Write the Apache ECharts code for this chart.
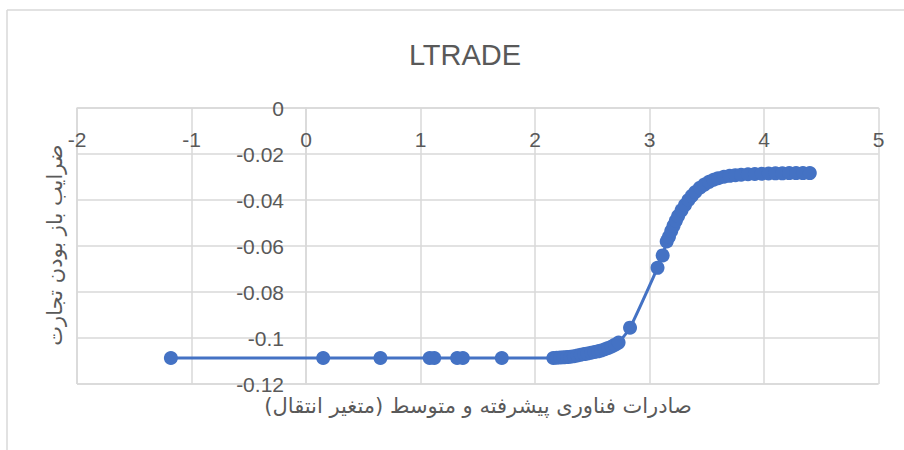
<!DOCTYPE html>
<html>
<head>
<meta charset="utf-8">
<script src="https://cdn.jsdelivr.net/npm/echarts@6/dist/echarts.min.js"></script>
<style>html,body{margin:0;padding:0;background:#fff;}#c{width:904px;height:450px;}</style>
</head>
<body>
<div id="c"></div>
<script>
const titleText = 'LTRADE';
const xAxisTitle = 'صادرات فناوری پیشرفته و متوسط (متغیر انتقال)';
const yAxisTitle = 'ضرایب باز بودن تجارت';

// transition variable values (x)
const xValues = [
  -1.18, 0.15, 0.65, 1.08, 1.12, 1.32, 1.37, 1.71,
  2.16, 2.19, 2.22, 2.25, 2.28, 2.31, 2.34, 2.37, 2.40, 2.43, 2.46, 2.49,
  2.52, 2.55, 2.58, 2.61, 2.64, 2.67, 2.70, 2.73,
  2.83, 3.07, 3.115,
  3.15, 3.17, 3.19, 3.21, 3.23, 3.25, 3.28, 3.31, 3.34, 3.37, 3.40, 3.44,
  3.48, 3.52, 3.56, 3.60, 3.65, 3.70, 3.75, 3.80, 3.86, 3.92, 3.98, 4.04,
  4.10, 4.16, 4.22, 4.28, 4.34, 4.40
];
// coefficient values (y)
const yValues = [
  -0.1087, -0.1087, -0.1087, -0.1087, -0.1087, -0.1087, -0.1087, -0.1087,
  -0.1087, -0.1086, -0.1085, -0.1084, -0.1083, -0.1081, -0.1079, -0.1076, -0.1073, -0.1070, -0.1067, -0.1064,
  -0.1061, -0.1058, -0.1054, -0.1049, -0.1043, -0.1037, -0.1029, -0.1020,
  -0.0955, -0.0695, -0.0641,
  -0.0580, -0.0560, -0.0535, -0.0512, -0.0490, -0.0470, -0.0445, -0.0422, -0.0400, -0.0382, -0.0365, -0.0347,
  -0.0333, -0.0321, -0.0312, -0.0305, -0.0299, -0.0295, -0.0292, -0.0290, -0.0288, -0.0287, -0.0286, -0.0285,
  -0.0284, -0.0284, -0.0283, -0.0283, -0.0283, -0.0283
];
const xTicks = [-2, -1, 0, 1, 2, 3, 4, 5];
const yTicks = [0, -0.02, -0.04, -0.06, -0.08, -0.1, -0.12];

const points = xValues.map((x, i) => [x, yValues[i]]);

const chart = echarts.init(document.getElementById('c'), null, {renderer: 'svg'});
const grey = '#d9d9d9';
const txt = '#595959';
const fnt = '"Liberation Sans", Arial, sans-serif';
const gridLeft = 77, gridRight = 25.5, gridTop = 108, gridBottom = 66;
const plotW = 904 - gridLeft - gridRight, plotH = 450 - gridTop - gridBottom;
const xMin = xTicks[0], xMax = xTicks[xTicks.length - 1];
const yMin = yTicks[yTicks.length - 1], yMax = yTicks[0];
// offsets place the axes where they cross zero (as in the reference)
const yAxisOffset = -((0 - xMin) / (xMax - xMin)) * plotW;
const xAxisOffset = -((0 - yMin) / (yMax - yMin)) * plotH;

chart.setOption({
  animation: false,
  backgroundColor: '#fff',
  title: {
    text: titleText, left: 460, top: 35, textAlign: 'center',
    textStyle: {fontFamily: fnt, fontSize: 29, fontWeight: 'normal', color: txt}
  },
  grid: {left: gridLeft, right: gridRight, top: gridTop, bottom: gridBottom, containLabel: false},
  xAxis: {
    type: 'value', min: xMin, max: xMax, interval: 1, position: 'bottom', offset: xAxisOffset,
    axisLine: {show: true, onZero: false, lineStyle: {color: grey, width: 1.5}},
    axisTick: {show: false},
    axisLabel: {color: txt, fontFamily: fnt, fontSize: 21, margin: 21, showMinLabel: true, showMaxLabel: true},
    splitLine: {show: true, lineStyle: {color: grey, width: 1.5}}
  },
  yAxis: {
    type: 'value', min: yMin, max: yMax, interval: 0.02, position: 'left', offset: yAxisOffset,
    axisLine: {show: true, onZero: false, lineStyle: {color: grey, width: 1.5}},
    axisTick: {show: false},
    axisLabel: {color: txt, fontFamily: fnt, fontSize: 21, margin: 22, showMinLabel: true, showMaxLabel: true,
      formatter: v => String(parseFloat(v.toFixed(2)))},
    splitLine: {show: true, lineStyle: {color: grey, width: 1.5}}
  },
  graphic: [
    {type: 'line', shape: {x1: 7, y1: 10, x2: 7, y2: 450}, style: {stroke: grey, lineWidth: 1.5}, silent: true},
    {type: 'line', shape: {x1: 7, y1: 10, x2: 904, y2: 10}, style: {stroke: grey, lineWidth: 1.5}, silent: true},
    {type: 'line', shape: {x1: gridLeft, y1: gridTop + plotH, x2: gridLeft + plotW, y2: gridTop + plotH}, style: {stroke: grey, lineWidth: 1.5}, silent: true},
    {type: 'line', shape: {x1: gridLeft, y1: gridTop, x2: gridLeft, y2: gridTop + plotH}, style: {stroke: grey, lineWidth: 1.5}, silent: true},
    {type: 'text', x: 478, y: 406,
      style: {text: xAxisTitle, fill: txt, font: '21px "DejaVu Sans", sans-serif', textAlign: 'center', textVerticalAlign: 'middle'}},
    {type: 'text', x: 55, y: 245, rotation: Math.PI / 2,
      style: {text: yAxisTitle, fill: txt, font: '21px "DejaVu Sans", sans-serif', textAlign: 'center', textVerticalAlign: 'middle'}}
  ],
  series: [{
    type: 'line',
    data: points,
    smooth: 0.2,
    symbol: 'circle',
    symbolSize: 14,
    showAllSymbol: true,
    lineStyle: {color: '#4472C4', width: 3},
    itemStyle: {color: '#4472C4'}
  }]
});
</script>
</body>
</html>
